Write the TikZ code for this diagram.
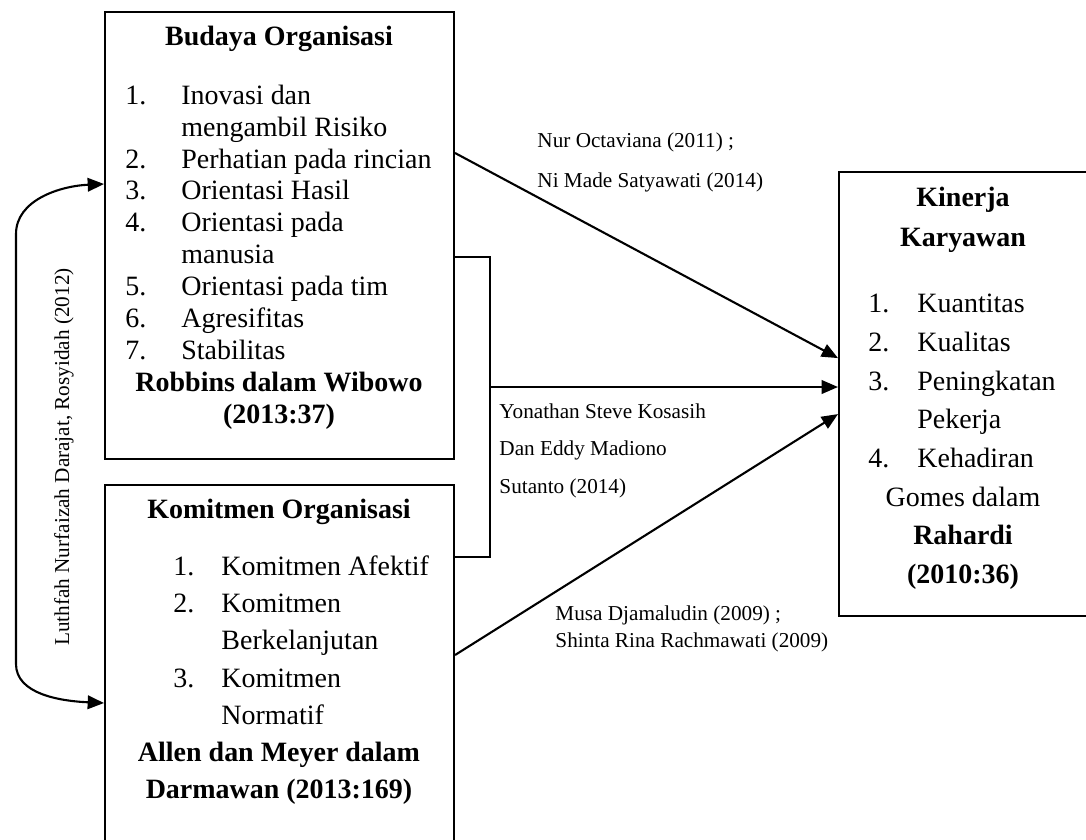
\documentclass[tikz,border=0pt]{standalone}
\usepackage{fontspec}
\setmainfont{Liberation Serif}
\usetikzlibrary{arrows.meta,positioning,calc}

\tikzset{
  varbox/.style={draw, line width=0.9pt, rectangle, inner sep=0pt, anchor=north west},
  boxhead/.style={font=\fontsize{12}{#1}\selectfont\bfseries, align=center, inner sep=0pt},
  itemlist/.style={font=\fontsize{12}{#1}\selectfont, anchor=west, inner sep=0pt},
  reflabel/.style={font=\fontsize{9.1}{#1}\selectfont, align=left, anchor=west, inner sep=0pt},
  conn/.style={line width=0.9pt, -{Triangle[length=7pt,width=5.8pt]}},
}

\begin{document}
\begin{tikzpicture}[x=0.429pt, y=-0.429pt]
\useasboundingbox (0,0) rectangle (1086,839);
\clip (0,0) rectangle (1086,839);
% the three variable boxes
\node[varbox, minimum width=149.7pt, minimum height=191.8pt] (budaya) at (104,11) {};
\node[varbox, minimum width=149.7pt, minimum height=167pt] (komitmen) at (104,484) {};
\node[varbox, minimum width=107.3pt, minimum height=190.5pt] (kinerja) at (838,171) {};

% Budaya Organisasi
\node[boxhead=13.7pt] (budayaT) at (279,39) {Budaya Organisasi};
\node[itemlist=13.7pt] (budayaL) at (125,225.5) {\begin{tabular}{@{}p{24pt}@{}l@{}}
1. & Inovasi dan\\ & mengambil Risiko\\ 2. & Perhatian pada rincian\\
3. & Orientasi Hasil\\ 4. & Orientasi pada\\ & manusia\\
5. & Orientasi pada tim\\ 6. & Agresifitas\\ 7. & Stabilitas
\end{tabular}};
\node[boxhead=13.7pt] (budayaS) at (279,401) {Robbins dalam Wibowo\\(2013:37)};

% Komitmen Organisasi
\node[boxhead=16pt] (komitmenT) at (279,512) {Komitmen Organisasi};
\node[itemlist=16pt] (komitmenL) at (173,642.5) {\begin{tabular}{@{}p{20.6pt}@{}l@{}}
1. & Komitmen Afektif\\ 2. & Komitmen\\ & Berkelanjutan\\ 3. & Komitmen\\ & Normatif
\end{tabular}};
\node[boxhead=16pt] (komitmenS) at (279,773.5) {Allen dan Meyer dalam\\Darmawan (2013:169)};

% Kinerja Karyawan
\node[boxhead=17.2pt] (kinerjaT) at (963,220) {Kinerja\\Karyawan};
\node[itemlist=16.6pt] (kinerjaL) at (868,382.5) {\begin{tabular}{@{}p{21pt}@{}l@{}}
1. & Kuantitas\\ 2. & Kualitas\\ 3. & Peningkatan\\ & Pekerja\\ 4. & Kehadiran
\end{tabular}};
\node[boxhead=16.5pt] (kinerjaS) at (963,538) {\mdseries Gomes dalam\\Rahardi\\(2010:36)};

% reference labels
\node[reflabel=17.2pt] (refOct) at (537,162) {Nur Octaviana (2011) ;\\Ni Made Satyawati (2014)};
\node[reflabel=16.1pt] (refKos) at (499,450.5) {Yonathan Steve Kosasih\\Dan Eddy Madiono\\Sutanto (2014)};
\node[reflabel=11.6pt] (refDja) at (555,628.5) {Musa Djamaludin (2009) ;\\Shinta Rina Rachmawati (2009)};
\node[reflabel=11pt, anchor=center, rotate=90] (refLut) at (64,457) {Luthfah Nurfaizah Darajat, Rosyidah (2012)};

% connectors
\coordinate (aOut) at ($(budaya.north east)+(0,142)$);
\coordinate (aTop) at ($(budaya.north east)+(0,246)$);
\coordinate (bBot) at ($(komitmen.north east)+(0,73)$);
\coordinate (bOut) at ($(komitmen.north east)+(0,171)$);
\coordinate (aIn) at ($(budaya.north west)+(0,173)$);
\coordinate (bIn) at ($(komitmen.north west)+(0,219)$);
\coordinate (join) at ($(aTop)+(35,130)$);

\draw[conn] (aOut) -- ($(kinerja.west)+(0,-36)$);
\draw[line width=0.9pt] (aTop) -- ++(35,0) |- (bBot);
\draw[conn] (join) -- (join -| kinerja.west);
\draw[conn] (bOut) -- ($(kinerja.west)+(0,20)$);
\draw[line width=0.9pt, {Triangle[length=7pt,width=5.8pt]}-{Triangle[length=7pt,width=5.8pt]}]
  (aIn) .. controls (60,186) and (16,200) .. (16,234) -- (16,664) .. controls (16,694) and (60,701) .. (bIn);
\end{tikzpicture}
\end{document}
